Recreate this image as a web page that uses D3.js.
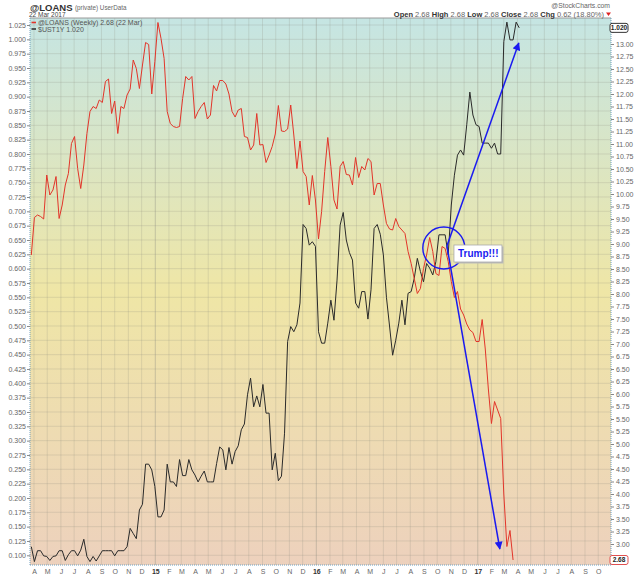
<!DOCTYPE html>
<html><head><meta charset="utf-8">
<script src="https://cdn.jsdelivr.net/npm/d3@7"></script>
<style>
body{margin:0;background:#fff}
svg{display:block}
text{font-family:"Liberation Sans",Arial,sans-serif}
</style>
</head><body>
<svg id="chart" width="640" height="576"></svg>
<script>
// ---------------- DATA ----------------
const xDomain = ["2014-03-23", "2017-10-30"];
const loansStart = "2014-03-26";   // weekly, @LOANS (right axis)
const loansValues = [
 8.78,9.53,9.58,9.55,9.5,10.38,9.98,10.08,10.35,9.51,
 9.78,10.18,10.41,11.01,11.15,10.51,10.11,10.58,11.21,11.65,
 11.75,11.71,11.88,11.83,12.25,12.3,11.61,11.86,11.21,11.75,
 11.71,11.98,12.1,12.68,12.51,12.11,12.58,13.03,12.99,12.0,
 12.65,13.43,13.11,12.71,11.65,11.41,11.35,11.33,11.35,11.91,
 12.35,12.28,12.35,11.51,11.65,11.75,11.83,11.5,11.58,12.17,
 12.06,12.27,12.27,12.2,12.0,11.65,11.54,11.68,11.71,11.15,
 11.13,10.88,10.98,11.61,10.98,10.99,10.63,10.78,10.95,11.2,
 11.77,11.26,11.25,11.3,11.78,11.18,10.51,11.06,10.45,10.35,
 9.78,10.37,9.88,9.1,9.65,10.45,11.13,10.55,9.88,9.7,
 10.55,10.65,10.39,10.38,10.18,10.73,10.33,10.55,10.48,10.71,
 10.65,9.98,10.21,10.21,9.78,9.41,9.3,9.28,9.51,9.35,
 9.28,9.21,8.85,8.61,8.31,8.01,8.11,8.51,8.78,9.13,
 8.85,8.41,8.37,8.95,8.91,8.65,8.25,7.93,8.05,7.7,
 7.58,7.4,7.28,7.23,7.05,7.05,7.49,6.9,6.1,5.41,
 5.85,5.68,5.51,4.0,2.95,3.27,2.68
];
const ustStart = "2014-03-26";     // weekly, $UST1Y (left axis)
const ustValues = [
 0.115,0.089,0.108,0.108,0.099,0.098,0.091,0.098,0.099,0.108,
 0.108,0.091,0.101,0.108,0.108,0.099,0.109,0.128,0.098,0.089,
 0.098,0.09,0.099,0.108,0.108,0.108,0.108,0.099,0.108,0.108,
 0.108,0.115,0.147,0.138,0.129,0.179,0.189,0.259,0.259,0.249,
 0.220,0.167,0.167,0.179,0.259,0.228,0.228,0.220,0.267,0.239,
 0.239,0.267,0.249,0.24,0.228,0.238,0.247,0.228,0.228,0.228,
 0.26,0.289,0.284,0.249,0.288,0.259,0.281,0.291,0.319,0.329,
 0.38,0.409,0.359,0.378,0.359,0.398,0.348,0.348,0.249,0.278,
 0.23,0.238,0.313,0.473,0.499,0.49,0.502,0.54,0.677,0.670,
 0.641,0.647,0.639,0.49,0.47,0.47,0.505,0.545,0.51,0.58,
 0.676,0.698,0.65,0.628,0.615,0.54,0.531,0.56,0.56,0.512,
 0.563,0.670,0.677,0.66,0.624,0.55,0.5,0.449,0.475,0.505,
 0.545,0.502,0.557,0.56,0.583,0.618,0.595,0.577,0.609,0.601,
 0.589,0.612,0.659,0.659,0.659,0.624,0.711,0.763,0.798,0.807,
 0.798,0.851,0.908,0.868,0.851,0.848,0.819,0.819,0.819,0.81,
 0.819,0.80,0.80,0.996,1.030,0.999,0.999,1.030,1.020
];
const leftTicks = d3.range(0, 38).map(i => 0.100 + i * 0.025);
const rightTicks = d3.range(0, 43).map(i => 2.75 + i * 0.25);
const monthLetters = ["J","F","M","A","M","J","J","A","S","O","N","D"];
const headerStats = [["Open","2.68"],["High","2.68"],["Low","2.68"],["Close","2.68"],["Chg","0.62 (18.80%)"]];
const legendItems = [
  {label:"@LOANS (Weekly) 2.68 (22 Mar)", series:"loans"},
  {label:"$UST1Y 1.020", series:"ust"}
];
// annotation anchors (date, right-axis value)
const circleAt = {date:"2016-10-16", v:8.92};
const arrowFrom = {date:"2016-10-23", v:8.96};
const arrowUpTo = {date:"2017-04-04", v:13.02};
const arrowDownTo = {date:"2017-02-20", v:2.9};
const noteAt = {date:"2016-11-08", v:8.98, text:"Trump!!!"};

// ---------------- SETUP ----------------
const parse = d3.timeParse("%Y-%m-%d");
const P = {l:30, r:611, t:18, b:565};
const svg = d3.select("#chart");
const x = d3.scaleTime().domain(xDomain.map(parse)).range([P.l, P.r]);
const yL = d3.scaleLinear().domain([0.100, 1.025]).range([555.3, 25]);
const yR = d3.scaleLinear().domain([2.75, 13.00]).range([556.5, 44]);

const loans = loansValues.map((v,i) => ({date: d3.timeDay.offset(parse(loansStart), 7*i), v}));
const ust = ustValues.map((v,i) => ({date: d3.timeDay.offset(parse(ustStart), 7*i), v}));
const lastUst = ustValues[ustValues.length-1];
const lastLoans = loansValues[loansValues.length-1];

const defs = svg.append("defs");
const grad = defs.append("linearGradient").attr("id","bg").attr("x1",0).attr("y1",0).attr("x2",0).attr("y2",1);
[["0%","#c5e5e3"],["50%","#efe6a6"],["100%","#edd1bd"]].forEach(s =>
  grad.append("stop").attr("offset", s[0]).attr("stop-color", s[1]));
defs.append("clipPath").attr("id","clip").append("rect")
  .attr("x",P.l).attr("y",P.t).attr("width",P.r-P.l).attr("height",P.b-P.t);
defs.append("marker").attr("id","ah").attr("viewBox","0 0 10 10")
  .attr("refX",9).attr("refY",5).attr("markerWidth",9).attr("markerHeight",8)
  .attr("markerUnits","userSpaceOnUse").attr("orient","auto")
  .append("path").attr("d","M0,0 L10,5 L0,10 z").attr("fill","#1a1af0");

svg.append("rect").attr("x",P.l).attr("y",P.t).attr("width",P.r-P.l).attr("height",P.b-P.t)
  .attr("fill","url(#bg)");

// grid
const months = d3.timeMonth.range(x.domain()[0], x.domain()[1]);
svg.append("g").selectAll("line").data(leftTicks).join("line")
  .attr("x1",P.l).attr("x2",P.r).attr("y1",d=>yL(d)).attr("y2",d=>yL(d))
  .attr("stroke","#8c8c80").attr("stroke-opacity",0.28).attr("stroke-width",0.8);
svg.append("g").selectAll("line").data(months).join("line")
  .attr("x1",d=>x(d)).attr("x2",d=>x(d)).attr("y1",P.t).attr("y2",P.b)
  .attr("stroke","#8c8c80").attr("stroke-opacity",d=>d.getMonth()===0?0.5:0.28).attr("stroke-width",0.8);

// frame
svg.append("line").attr("x1",P.l).attr("x2",P.r).attr("y1",P.t).attr("y2",P.t).attr("stroke","#9a9a9a");
[[P.l,P.t,P.l,P.b],[P.r,P.t,P.r,P.b],[P.l,P.b,P.r,P.b]].forEach(c =>
  svg.append("line").attr("x1",c[0]).attr("y1",c[1]).attr("x2",c[2]).attr("y2",c[3])
    .attr("stroke","#6f9fbf").attr("stroke-dasharray","1,1").attr("stroke-width",1));

// axes
const axL = svg.append("g").attr("transform",`translate(${P.l},0)`)
  .call(d3.axisLeft(yL).tickValues(leftTicks).tickFormat(d3.format(".3f")).tickSize(3).tickPadding(1));
const axR = svg.append("g").attr("transform",`translate(${P.r},0)`)
  .call(d3.axisRight(yR).tickValues(rightTicks).tickFormat(d3.format(".2f")).tickSize(3).tickPadding(2));
const axB = svg.append("g").attr("transform",`translate(0,${P.b})`)
  .call(d3.axisBottom(x).tickValues(months)
    .tickFormat(d => d.getMonth()===0 ? d3.timeFormat("%y")(d) : monthLetters[d.getMonth()])
    .tickSize(0).tickPadding(4));
[axL,axR,axB].forEach(a => {
  a.select(".domain").remove();
  a.selectAll("text").attr("font-size",7).attr("fill","#666").attr("font-family","Liberation Sans, Arial, sans-serif");
  a.selectAll(".tick line").attr("stroke","#888");
});
axB.selectAll("text").filter(d => d.getMonth()===0).attr("font-weight","bold").attr("fill","#333");
// labels hidden under the last-value boxes (as in the original)
axR.selectAll(".tick text").filter(d => Math.abs(yR(d)-yL(lastUst))<8 || Math.abs(yR(d)-yR(lastLoans))<8).remove();

// series
const lineL = d3.line().x(d=>x(d.date)).y(d=>yL(d.v));
const lineR = d3.line().x(d=>x(d.date)).y(d=>yR(d.v));
const plotG = svg.append("g").attr("clip-path","url(#clip)");
plotG.append("path").datum(ust).attr("d",lineL).attr("fill","none").attr("stroke","#2a2a2a").attr("stroke-width",1);
plotG.append("path").datum(loans).attr("d",lineR).attr("fill","none").attr("stroke","#e2352a").attr("stroke-width",1);

// legend
const legColor = {loans:"#e2352a", ust:"#333"};
legendItems.forEach((it,i) => {
  const yy = 22.5 + i*6.5;
  svg.append("line").attr("x1",31.5).attr("x2",36).attr("y1",yy).attr("y2",yy)
    .attr("stroke",legColor[it.series]).attr("stroke-width",1.6);
  svg.append("text").attr("x",38).attr("y",yy+2.6).attr("font-size",7)
    .attr("font-family","DejaVu Sans, sans-serif").attr("fill","#555").text(it.label);
});

// header
svg.append("text").attr("x",30).attr("y",10.5).attr("font-size",9.5).attr("font-weight","bold").attr("fill","#333").text("@LOANS");
svg.append("text").attr("x",75).attr("y",9.5).attr("font-size",6.3).attr("fill","#666").text("(private) UserData");
svg.append("text").attr("x",29).attr("y",17).attr("font-size",6.5).attr("fill","#444").text("22 Mar 2017");
svg.append("text").attr("x",610).attr("y",7.5).attr("text-anchor","end").attr("font-size",6.8).attr("fill","#666").text("@StockCharts.com");
const st = svg.append("text").attr("x",604).attr("y",16.6).attr("text-anchor","end").attr("font-size",7.5).attr("fill","#333");
headerStats.forEach((p,i) => {
  st.append("tspan").attr("font-weight","bold").text((i?"  ":"")+p[0]+" ");
  st.append("tspan").attr("fill","#666").text(p[1]);
});
svg.append("path").attr("d","M606,12.5 L611,12.5 L608.5,16 z").attr("fill","#d22");

// last-value boxes
function valBox(yv, txt, border){
  svg.append("rect").attr("x",610).attr("y",yv-4.5).attr("width",18).attr("height",9).attr("rx",2)
    .attr("fill","#fff").attr("stroke",border).attr("stroke-width",1);
  svg.append("text").attr("x",619).attr("y",yv+2.4).attr("text-anchor","middle").attr("font-size",6.5)
    .attr("font-weight","bold").attr("fill","#222").text(txt);
}
valBox(yL(lastUst), d3.format(".3f")(lastUst), "#333");
valBox(yR(lastLoans), d3.format(".2f")(lastLoans), "#e05050");

// annotations
const blue = "#1a1af0";
const px = a => [x(parse(a.date)), yR(a.v)];
const c = px(circleAt);
svg.append("circle").attr("cx",c[0]).attr("cy",c[1]).attr("r",21).attr("fill","none").attr("stroke",blue).attr("stroke-width",1.4);
const a0 = px(arrowFrom), aU = px(arrowUpTo), aD = px(arrowDownTo);
[aU,aD].forEach(t => svg.append("line").attr("x1",a0[0]).attr("y1",a0[1]).attr("x2",t[0]).attr("y2",t[1])
  .attr("stroke",blue).attr("stroke-width",1.5).attr("marker-end","url(#ah)"));
const n = px(noteAt);
svg.append("rect").attr("x",n[0]+1.5).attr("y",n[1]+1.5).attr("width",48).attr("height",17).attr("fill","#bbb");
svg.append("rect").attr("x",n[0]).attr("y",n[1]).attr("width",48).attr("height",17).attr("fill","#fff").attr("stroke","#aaa").attr("stroke-width",0.8);
svg.append("text").attr("x",n[0]+4).attr("y",n[1]+12).attr("font-size",10).attr("font-weight","bold")
  .attr("font-family","DejaVu Sans, sans-serif").attr("fill",blue).text(noteAt.text);
</script>
</body></html>
